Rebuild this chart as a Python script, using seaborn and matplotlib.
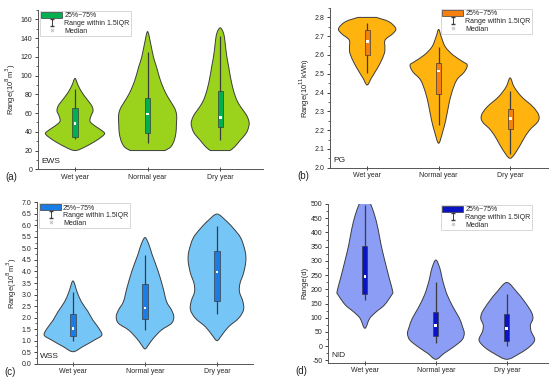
import numpy as np
import pandas as pd
import matplotlib
matplotlib.use("Agg")
import matplotlib.pyplot as plt
from matplotlib.patches import Patch, PathPatch
from matplotlib.path import Path
from matplotlib.lines import Line2D
from matplotlib.ticker import MultipleLocator, FuncFormatter
import seaborn as sns

sns.set_theme(style="ticks")
plt.rcParams['font.family'] = ['Liberation Sans', 'DejaVu Sans']

categories = ["Wet year", "Normal year", "Dry year"]

# ---------------- violin outlines: (value levels, relative half-width) ----------------
# (a) EWS
ews_wet_y = [20, 24, 31, 37, 40, 46, 51, 57, 62, 67, 72, 78, 84, 90, 97]
ews_wet_w = [0.0, 0.35, 0.75, 1.0, 0.98, 0.7, 0.52, 0.55, 0.62, 0.59, 0.48, 0.33, 0.2, 0.1, 0.0]
ews_nor_y = [20, 24, 31, 40, 46, 52, 58, 63, 67, 74, 81, 90, 99, 110, 120, 135, 147]
ews_nor_w = [0.6, 0.8, 0.92, 0.98, 0.99, 1.0, 1.0, 0.96, 0.9, 0.76, 0.63, 0.5, 0.4, 0.3, 0.2, 0.1, 0.0]
ews_dry_y = [20, 24, 31, 37, 42, 49, 55, 60, 66, 74, 85, 99, 110, 120, 132, 142, 148, 151]
ews_dry_w = [0.34, 0.5, 0.69, 0.86, 0.95, 1.0, 0.95, 0.86, 0.72, 0.57, 0.45, 0.35, 0.29, 0.23, 0.18, 0.14, 0.08, 0.0]

# (b) PG
pg_wet_y = [2.44, 2.475, 2.51, 2.555, 2.608, 2.64, 2.68, 2.714, 2.741, 2.777, 2.80]
pg_wet_w = [0.0, 0.14, 0.28, 0.45, 0.6, 0.62, 0.63, 0.9, 1.0, 0.76, 0.32]
pg_nor_y = [2.13, 2.19, 2.254, 2.324, 2.395, 2.466, 2.51, 2.546, 2.564, 2.60, 2.644, 2.697, 2.736]
pg_nor_w = [0.0, 0.14, 0.25, 0.34, 0.45, 0.63, 0.9, 1.0, 0.85, 0.5, 0.23, 0.09, 0.0]
pg_dry_y = [2.05, 2.094, 2.147, 2.20, 2.245, 2.28, 2.324, 2.378, 2.43, 2.478]
pg_dry_w = [0.0, 0.25, 0.45, 0.68, 0.97, 1.0, 0.8, 0.4, 0.14, 0.0]

# (c) WSS
wss_wet_y = [0.52, 0.74, 1.03, 1.24, 1.53, 1.89, 2.26, 2.69, 3.12, 3.59]
wss_wet_w = [0.0, 0.34, 0.75, 1.0, 0.9, 0.69, 0.52, 0.29, 0.14, 0.0]
wss_nor_y = [0.64, 0.85, 1.1, 1.46, 1.75, 2.04, 2.33, 2.69, 3.27, 4.0, 4.72, 5.15, 5.47]
wss_nor_w = [0.0, 0.14, 0.29, 0.57, 0.92, 1.0, 0.92, 0.75, 0.63, 0.46, 0.25, 0.14, 0.0]
wss_dry_y = [1.0, 1.24, 1.6, 1.97, 2.33, 2.69, 3.12, 3.49, 3.92, 4.43, 4.86, 5.44, 5.87, 6.23, 6.49]
wss_dry_w = [0.0, 0.17, 0.4, 0.75, 0.92, 0.9, 0.78, 0.8, 0.92, 1.0, 0.98, 0.83, 0.57, 0.29, 0.0]

# (d) NID
nid_wet_y = [63, 98, 121, 145, 180, 192, 238, 297, 356, 414, 461, 500, 530]
nid_wet_w = [0.0, 0.17, 0.4, 0.69, 0.94, 0.98, 0.86, 0.71, 0.57, 0.46, 0.34, 0.2, 0.05]
nid_nor_y = [-46, -25, -2, 22, 45, 68, 98, 133, 180, 227, 274, 303]
nid_nor_w = [0.0, 0.29, 0.63, 0.92, 1.0, 0.94, 0.83, 0.63, 0.4, 0.25, 0.14, 0.0]
nid_dry_y = [-46, -25, -2, 22, 51, 74, 98, 121, 156, 192, 224]
nid_dry_w = [0.0, 0.46, 0.8, 0.98, 0.86, 0.83, 0.92, 0.86, 0.63, 0.34, 0.0]

# ---------------- box statistics ----------------
ews_whislo = [32.5, 28.5, 31];  ews_q1 = [35, 38.5, 45];  ews_med = [48.5, 59, 55];  ews_q3 = [65, 76.5, 84];  ews_whishi = [85.5, 125, 142.5]
pg_whislo = [2.505, 2.225, 2.075];  pg_q1 = [2.60, 2.39, 2.205];  pg_med = [2.67, 2.515, 2.26];  pg_q3 = [2.735, 2.555, 2.315];  pg_whishi = [2.77, 2.645, 2.41]
wss_whislo = [0.98, 1.48, 2.15];  wss_q1 = [1.2, 1.95, 2.7];  wss_med = [1.52, 2.42, 3.98];  wss_q3 = [2.15, 3.47, 4.9];  wss_whishi = [3.1, 4.72, 5.98]
nid_whislo = [162, 10, 0];  nid_q1 = [182, 37, 20];  nid_med = [246, 73, 63];  nid_q3 = [352, 122, 112];  nid_whishi = [495, 225, 185]

panels = [
    dict(tag="EWS", label="(a)", ylabel="Range(10$^8$m$^3$)",
         violins=[(ews_wet_y, ews_wet_w), (ews_nor_y, ews_nor_w), (ews_dry_y, ews_dry_w)],
         stats=(ews_whislo, ews_q1, ews_med, ews_q3, ews_whishi),
         fill="#9bd21c", box="#00b050",
         rect=[38, 10, 263, 169.3], xlim=(-0.51, 2.59), ylim=(0, 170),
         major=20, minor=10, fmt="{:.0f}", leg="left"),
    dict(tag="PG", label="(b)", ylabel="Range(10$^{11}$kWh)",
         violins=[(pg_wet_y, pg_wet_w), (pg_nor_y, pg_nor_w), (pg_dry_y, pg_dry_w)],
         stats=(pg_whislo, pg_q1, pg_med, pg_q3, pg_whishi),
         fill="#ffb30f", box="#f6800f",
         rect=[330, 8, 548, 167.7], xlim=(-0.52, 2.53), ylim=(2.0, 2.85),
         major=0.1, minor=0.05, fmt="{:.1f}", leg="right"),
    dict(tag="WSS", label="(c)", ylabel="Range(10$^8$m$^3$)",
         violins=[(wss_wet_y, wss_wet_w), (wss_nor_y, wss_nor_w), (wss_dry_y, wss_dry_w)],
         stats=(wss_whislo, wss_q1, wss_med, wss_q3, wss_whishi),
         fill="#76c5f7", box="#1a7de6",
         rect=[37, 202.3, 253, 363.7], xlim=(-0.5, 2.5), ylim=(0, 7.0),
         major=0.5, minor=0.25, fmt="{:.1f}", leg="left"),
    dict(tag="NID", label="(d)", ylabel="Range(d)",
         violins=[(nid_wet_y, nid_wet_w), (nid_nor_y, nid_nor_w), (nid_dry_y, nid_dry_w)],
         stats=(nid_whislo, nid_q1, nid_med, nid_q3, nid_whishi),
         fill="#8c9df5", box="#0a14c4",
         rect=[328, 204, 548, 362.7], xlim=(-0.52, 2.58), ylim=(-58, 500),
         major=50, minor=25, fmt="{:.0f}", leg="right"),
]


def violin_path(center, ys, ws, halfmax):
    """Closed smooth outline through the read outline points (Catmull-Rom as Bezier)."""
    ys = list(ys)
    hw = [w * halfmax for w in ws]
    n = len(ys)
    pts, straight = [], []
    # right side, bottom -> top
    for k in range(n):
        pts.append((center + hw[k], ys[k]))
    # left side, top -> bottom (skip tip duplicates)
    for k in range(n - 1, -1, -1):
        if hw[k] == 0 and (k == n - 1 or k == 0):
            continue
        pts.append((center - hw[k], ys[k]))
    m = len(pts)
    straight = [False] * m
    if hw[-1] != 0:
        straight[n - 1] = True          # flat top
    if hw[0] != 0:
        straight[m - 1] = True          # flat bottom
    P = np.array(pts)
    verts = [P[0]]
    codes = [Path.MOVETO]
    for j in range(m):
        a, b = P[j], P[(j + 1) % m]
        if straight[j]:
            verts.append(b)
            codes.append(Path.LINETO)
            continue
        prev = P[j] if straight[(j - 1) % m] else P[(j - 1) % m]
        nxt = P[(j + 1) % m] if straight[(j + 1) % m] else P[(j + 2) % m]
        c1 = a + (b - prev) / 6.0
        c2 = b - (nxt - a) / 6.0
        verts.extend([c1, c2, b])
        codes.extend([Path.CURVE4] * 3)
    codes[-1] = Path.CLOSEPOLY if False else codes[-1]
    return Path(np.array(verts), codes)


W, H = 550, 385
fig = plt.figure(figsize=(5.5, 3.85), dpi=100)
edge = "#3c3c3c"
halfmax = 0.40
boxhalf = 0.035

for p in panels:
    l, t, r, b = p["rect"]
    ax = fig.add_axes([l / W, (H - b) / H, (r - l) / W, (b - t) / H])
    ax.set_facecolor("white")
    for i, (ys, ws) in enumerate(p["violins"]):
        path = violin_path(i, ys, ws, halfmax)
        ax.add_patch(PathPatch(path, facecolor=p["fill"], edgecolor=edge, lw=0.7, zorder=2,
                               joinstyle="round"))
    wlo, q1, med, q3, whi = p["stats"]
    for i in range(len(categories)):
        ax.plot([i, i], [wlo[i], whi[i]], color=edge, lw=0.9, zorder=3, solid_capstyle="butt")
        ax.add_patch(plt.Rectangle((i - boxhalf, q1[i]), 2 * boxhalf, q3[i] - q1[i],
                                   facecolor=p["box"], edgecolor=edge, lw=0.5, zorder=4))
    dfm = pd.DataFrame({"x": np.arange(len(categories)), "median": med})
    sns.scatterplot(data=dfm, x="x", y="median", ax=ax, marker="s", s=4, color="white",
                    edgecolor="none", zorder=5, legend=False)
    ax.set_xlim(*p["xlim"])
    ax.set_ylim(*p["ylim"])
    ax.set_xticks(range(len(categories)))
    ax.set_xticklabels(categories, fontsize=5)
    ax.yaxis.set_major_locator(MultipleLocator(p["major"]))
    ax.yaxis.set_minor_locator(MultipleLocator(p["minor"]))
    ax.yaxis.set_major_formatter(FuncFormatter(lambda v, pos, f=p["fmt"]: f.format(v)))
    ax.tick_params(axis="y", which="major", direction="out", length=2.5, width=0.6, labelsize=5, pad=1.5)
    ax.tick_params(axis="y", which="minor", direction="out", length=1.3, width=0.5)
    ax.tick_params(axis="x", which="major", direction="inout", length=2.5, width=0.6, pad=2)
    ax.set_xlabel("")
    ax.set_ylabel(p["ylabel"], fontsize=5.5, labelpad=2)
    for s in ["top", "right"]:
        ax.spines[s].set_visible(False)
    for s in ["left", "bottom"]:
        ax.spines[s].set_linewidth(0.7)
        ax.spines[s].set_color("#555555")
    ax.text(0.015, 0.025, p["tag"], transform=ax.transAxes, fontsize=6, ha="left", va="bottom", color="#222222")
    fig.text((l - 33) / W, (H - b - 8) / H, p["label"], fontsize=7, ha="left", va="center", color="#222222")

    # legend
    eb = ax.errorbar([np.nan], [np.nan], yerr=[[1], [1]], fmt="none", ecolor=edge, capsize=1.5, elinewidth=0.7)
    handles = [Patch(facecolor=p["box"], edgecolor=edge, lw=0.5), eb,
               Line2D([], [], marker="s", ls="none", color="#cfcfcf", markersize=1.5)]
    labels = ["25%~75%", "Range within 1.5IQR", "Median"]
    if p["leg"] == "left":
        loc, anchor = "upper left", (0.005, 1.0)
    else:
        loc, anchor = "upper right", (0.93, 1.0)
    lg = ax.legend(handles, labels, loc=loc, bbox_to_anchor=anchor, fontsize=5, frameon=True,
                   fancybox=False, framealpha=1, edgecolor="#c8c8c8", handlelength=3.0,
                   handleheight=0.9, borderpad=0.2, labelspacing=0.05, handletextpad=0.3,
                   borderaxespad=0.1)
    lg.get_frame().set_linewidth(0.5)

fig.savefig("out.png", dpi=100, facecolor="white")
